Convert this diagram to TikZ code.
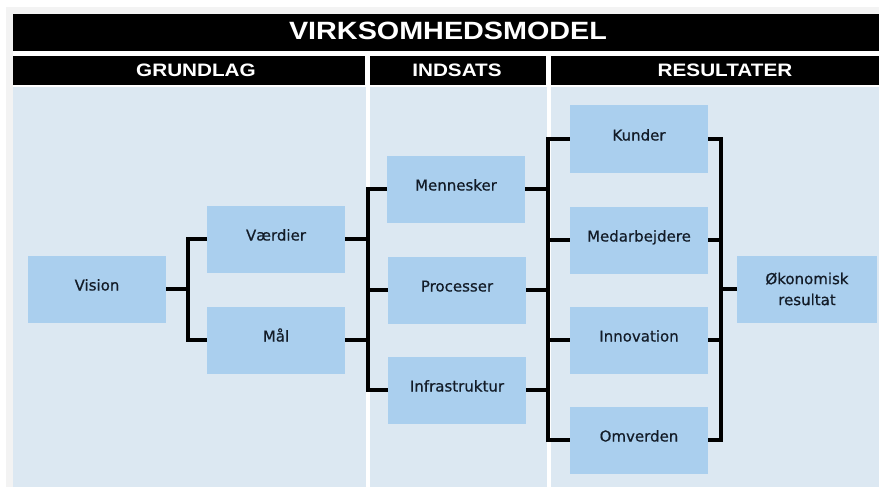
\documentclass[tikz,border=0pt]{standalone}
\usepackage{fontspec}
\setmainfont{DejaVu Sans}[FakeBold=0.6]
\newfontfamily\hdrfont{Liberation Sans}[BoldFont={Liberation Sans Bold}]
\definecolor{boxblue}{HTML}{AACFEE}
\definecolor{bgblue}{HTML}{DCE8F2}
\definecolor{framegray}{HTML}{F3F3F3}
\definecolor{textdark}{HTML}{131C28}
\tikzset{
  box/.style={rectangle, fill=boxblue, minimum width=138pt, minimum height=67pt,
    inner sep=0pt, text=textdark, font=\fontsize{15}{21}\selectfont,
    text height=11pt, text depth=8pt},
  box2/.style={rectangle, fill=boxblue, minimum width=140pt, minimum height=67pt,
    inner sep=0pt, text=textdark, font=\fontsize{15}{21}\selectfont, align=center},
  titletext/.style={text=white, inner sep=0pt, font=\hdrfont\bfseries\fontsize{25}{25}\selectfont},
  headtext/.style={text=white, inner sep=0pt, font=\hdrfont\bfseries\fontsize{18}{18}\selectfont},
  conn/.style={draw=black, line width=3.4pt, line join=miter},
  bar/.style={fill=black}
}
\begin{document}
\begin{tikzpicture}[x=1pt,y=-1pt]
\useasboundingbox (0,0) rectangle (879,487);
\fill[white] (0,0) rectangle (879,487);
\fill[framegray] (6,7) rectangle (879,487);
\fill[white] (13,14) rectangle (879,487);
% background
\fill[bgblue] (13,87) rectangle (879,487);
\fill[white] (366,87) rectangle (370,487);
\fill[white] (547,87) rectangle (551,487);
% title and header bars
\fill[bar] (13,14) rectangle (879,51);
\fill[bar] (13,56) rectangle (365,85);
\fill[bar] (370,56) rectangle (546,85);
\fill[bar] (551,56) rectangle (879,85);
\node[titletext] (title) at (448,31) {\scalebox{1.15}[1]{VIRKSOMHEDSMODEL}};
\node[headtext] (h1) at (196,70.5) {\scalebox{1.15}[1]{GRUNDLAG}};
\node[headtext] (h2) at (457,70.5) {\scalebox{1.15}[1]{INDSATS}};
\node[headtext] (h3) at (725,70.5) {\scalebox{1.15}[1]{RESULTATER}};
% boxes
\node[box] (vision) at (97,289) {Vision};
\node[box] (vaerdier) at (276,239) {Værdier};
\node[box] (maal) at (276,340) {Mål};
\node[box] (mennesker) at (456,189) {Mennesker};
\node[box] (processer) at (457,290) {Processer};
\node[box] (infra) at (457,390) {Infrastruktur};
\node[box] (kunder) at (639,139) {Kunder};
\node[box] (medarb) at (639,240) {Medarbejdere};
\node[box] (innov) at (639,340) {Innovation};
\node[box] (omverden) at (639,440) {Omverden};
\node[box2] (okon) at (807,289) {Økonomisk\\resultat};
% bracket x positions
\coordinate (b1) at (188,0);
\coordinate (b2) at (368,0);
\coordinate (b3) at (548,0);
\coordinate (b4) at (721,0);
% bracket 1
\draw[conn] (vision.east) -- (vision.east -| b1);
\draw[conn] (vaerdier.west) -- (vaerdier.west -| b1) -- (maal.west -| b1) -- (maal.west);
% bracket 2
\draw[conn] (vaerdier.east) -- (vaerdier.east -| b2);
\draw[conn] (maal.east) -- (maal.east -| b2);
\draw[conn] (mennesker.west) -- (mennesker.west -| b2) -- (infra.west -| b2) -- (infra.west);
\draw[conn] (processer.west) -- (processer.west -| b2);
% bracket 3
\draw[conn] (mennesker.east) -- (mennesker.east -| b3);
\draw[conn] (processer.east) -- (processer.east -| b3);
\draw[conn] (infra.east) -- (infra.east -| b3);
\draw[conn] (kunder.west) -- (kunder.west -| b3) -- (omverden.west -| b3) -- (omverden.west);
\draw[conn] (medarb.west) -- (medarb.west -| b3);
\draw[conn] (innov.west) -- (innov.west -| b3);
% bracket 4
\draw[conn] (kunder.east) -- (kunder.east -| b4) -- (omverden.east -| b4) -- (omverden.east);
\draw[conn] (medarb.east) -- (medarb.east -| b4);
\draw[conn] (innov.east) -- (innov.east -| b4);
\draw[conn] (okon.west) -- (okon.west -| b4);
\end{tikzpicture}
\end{document}
